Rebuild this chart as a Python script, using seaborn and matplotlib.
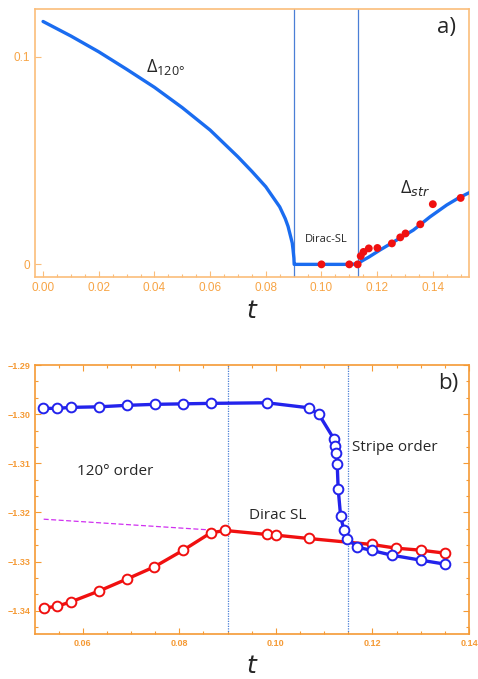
import pandas as pd
import matplotlib
matplotlib.use('Agg')
import matplotlib.pyplot as plt
from matplotlib.ticker import MultipleLocator, FixedLocator
import seaborn as sns

# ---- panel a) gap curve and DMRG points ----
gap_t = [0.0, 0.01, 0.02, 0.03, 0.04, 0.05, 0.06, 0.07, 0.075, 0.08, 0.082,
         0.085, 0.087, 0.088, 0.089, 0.0895, 0.0898, 0.0901, 0.0902, 0.0903,
         0.10, 0.11, 0.1115, 0.1125, 0.1135, 0.115, 0.117, 0.121, 0.127,
         0.133, 0.139, 0.145, 0.149, 0.153]
gap_val = [0.117, 0.110, 0.1024, 0.094, 0.0853, 0.0755, 0.0647, 0.0518, 0.0448,
           0.0374, 0.0335, 0.0277, 0.022, 0.0183, 0.013, 0.0103, 0.007, 0.003,
           0.0, 0.0, 0.0, 0.0, 0.0001, 0.0003, 0.0008, 0.002, 0.0035, 0.0069,
           0.0117, 0.0165, 0.0229, 0.0286, 0.0318, 0.0345]
str_t = [0.100, 0.110, 0.113, 0.1141, 0.1151, 0.117, 0.1201, 0.1253, 0.1283,
         0.1302, 0.1355, 0.140, 0.150]
str_val = [0.0, 0.0, 0.0, 0.004, 0.006, 0.0077, 0.0079, 0.0101, 0.013, 0.0149,
           0.0193, 0.029, 0.032]
a_vlines = [0.0902, 0.1132]

# ---- panel b) energies ----
blue_t = [0.0517, 0.0547, 0.0575, 0.0634, 0.0692, 0.0749, 0.0807, 0.0865,
          0.0981, 0.1068, 0.1089, 0.1120, 0.1123, 0.1125, 0.1127, 0.1129,
          0.1134, 0.1141, 0.1148, 0.1169, 0.1199, 0.1240, 0.1300, 0.1351]
blue_e = [-1.29882, -1.29882, -1.29862, -1.29850, -1.29820, -1.29800, -1.29790,
          -1.29780, -1.29768, -1.29870, -1.30004, -1.30501, -1.30656, -1.30798,
          -1.31022, -1.31525, -1.32069, -1.32367, -1.32538, -1.32707, -1.32774,
          -1.32870, -1.32971, -1.33053]
red_t = [0.0519, 0.0547, 0.0575, 0.0634, 0.0692, 0.0748, 0.0807, 0.0865,
         0.0895, 0.0981, 0.1000, 0.1068, 0.1199, 0.1249, 0.1300, 0.1351]
red_e = [-1.33949, -1.33908, -1.33821, -1.33597, -1.33352, -1.33108, -1.32774,
         -1.32415, -1.32367, -1.32448, -1.32462, -1.32530, -1.32652, -1.32727,
         -1.32768, -1.32829]
extrap_t = [0.0519, 0.0870]
extrap_e = [-1.32137, -1.32360]
b_vlines = [0.090, 0.115]

sns.set_style('white')
plt.rcParams['font.family'] = ['Liberation Sans', 'DejaVu Sans']
plt.rcParams['mathtext.fontset'] = 'dejavusans'

ORANGE = '#f7a445'
FRAME = '#fbbd7a'
txt_font = ['Open Sans', 'DejaVu Sans']

fig = plt.figure(figsize=(4.78, 6.79), dpi=100)
ax1 = fig.add_axes([0.0732, 0.592, 0.908, 0.3947])
ax2 = fig.add_axes([0.0732, 0.0658, 0.908, 0.3966])

# panel a
for xv in a_vlines:
    ax1.axvline(xv, color='#4a7fd6', lw=0.9, zorder=1)
sns.lineplot(x=gap_t, y=gap_val, ax=ax1, color='#1a6cf0', lw=2.4,
             sort=False, estimator=None, zorder=3)
sns.scatterplot(x=str_t, y=str_val, ax=ax1, color='#f01010', s=32,
                edgecolor='none', zorder=4)
ax1.set_xlim(-0.0029, 0.1530)
ax1.set_ylim(-0.0061, 0.123)
ax1.xaxis.set_major_locator(MultipleLocator(0.02))
ax1.xaxis.set_minor_locator(MultipleLocator(0.005))
ax1.yaxis.set_major_locator(FixedLocator([0, 0.1]))
ax1.set_xticklabels([f'{v:.2f}' for v in ax1.get_xticks()])
ax1.set_yticklabels(['0', '0.1'])
ax1.tick_params(which='both', direction='in', bottom=True, left=True,
                colors=FRAME, labelcolor=ORANGE, labelsize=8.5)
ax1.tick_params(which='major', length=4, width=0.8)
ax1.tick_params(which='minor', length=2.5, width=0.8)
for s in ax1.spines.values():
    s.set_color(FRAME)
    s.set_linewidth(1.2)
ax1.text(0.0438, 0.095, r'$\mathregular{\Delta_{120°}}$', fontsize=13,
         ha='center', va='center', family=txt_font)
ax1.text(0.1335, 0.037, r'$\mathregular{\Delta}_{str}$', fontsize=13,
         ha='center', va='center', family=txt_font)
ax1.text(0.1016, 0.012, 'Dirac-SL', fontsize=8, ha='center', va='center',
         family=txt_font)
ax1.text(0.1450, 0.1140, 'a)', fontsize=16, ha='center', va='center',
         family=txt_font)
ax1.set_xlabel('$t$', fontsize=18, labelpad=4)

# panel b
for xv in b_vlines:
    ax2.axvline(xv, color='#4a7fd6', lw=0.9, ls=(0, (1, 1)), zorder=1)
ax2.plot(extrap_t, extrap_e, color='#d030f0', lw=0.9, ls=(0, (4, 2)), zorder=2)
sns.lineplot(x=red_t, y=red_e, ax=ax2, color='#f01010', lw=2.4, sort=False,
             estimator=None, marker='o', markersize=7, markerfacecolor='white',
             markeredgecolor='#f01010', markeredgewidth=1.4, zorder=3)
sns.lineplot(x=blue_t, y=blue_e, ax=ax2, color='#2323ec', lw=2.4, sort=False,
             estimator=None, marker='o', markersize=7, markerfacecolor='white',
             markeredgecolor='#2323ec', markeredgewidth=1.4, zorder=4)
ax2.set_xlim(0.0501, 0.1398)
ax2.set_ylim(-1.3448, -1.29)
ax2.xaxis.set_major_locator(MultipleLocator(0.02))
ax2.xaxis.set_minor_locator(MultipleLocator(0.005))
ax2.yaxis.set_major_locator(MultipleLocator(0.01))
ax2.yaxis.set_minor_locator(MultipleLocator(0.01 / 3))
ax2.set_xticks([0.06, 0.08, 0.10, 0.12, 0.14])
ax2.set_xticklabels(['0.06', '0.08', '0.10', '0.12', '0.14'])
ax2.set_yticks([-1.29, -1.30, -1.31, -1.32, -1.33, -1.34])
ax2.set_yticklabels(['\u22121.29', '\u22121.30', '\u22121.31', '\u22121.32',
                     '\u22121.33', '\u22121.34'])
ax2.tick_params(which='both', direction='in', bottom=True, left=True,
                top=True, right=True, colors='#f59a35', labelcolor='#f59a35',
                labelsize=6.5)
ax2.tick_params(which='major', length=4, width=0.8)
ax2.tick_params(which='minor', length=2.5, width=0.8)
for lab in ax2.get_xticklabels() + ax2.get_yticklabels():
    lab.set_fontweight('bold')
for s in ax2.spines.values():
    s.set_color('#f59a35')
    s.set_linewidth(1.2)
ax2.text(0.0667, -1.3116, '120° order', fontsize=11, ha='center',
         va='center', family=txt_font)
ax2.text(0.1003, -1.3206, 'Dirac SL', fontsize=11, ha='center',
         va='center', family=txt_font)
ax2.text(0.1246, -1.3068, 'Stripe order', fontsize=11, ha='center',
         va='center', family=txt_font, zorder=5,
         bbox=dict(facecolor='white', edgecolor='none', pad=1.5))
ax2.text(0.1356, -1.2937, 'b)', fontsize=16, ha='center', va='center',
         family=txt_font)
ax2.set_xlabel('$t$', fontsize=18, labelpad=4)

fig.savefig('out.png', dpi=100)
